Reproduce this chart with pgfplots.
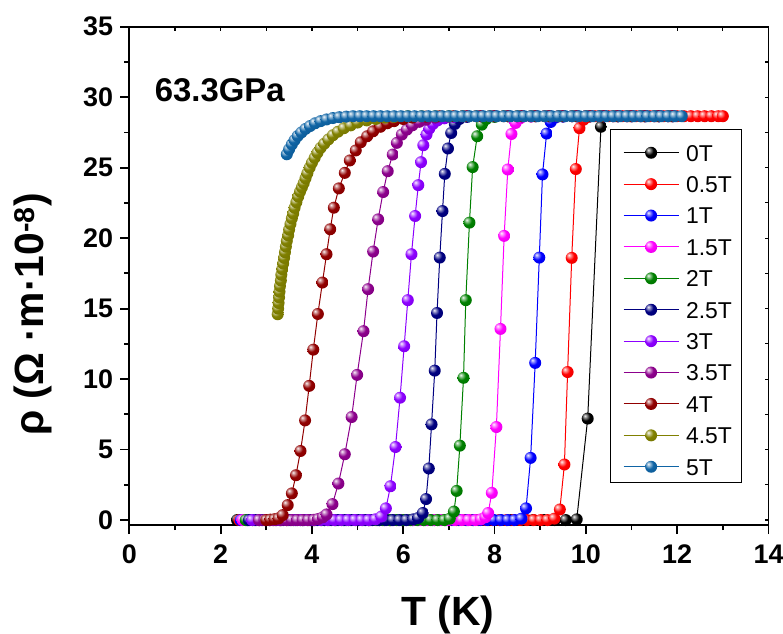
\documentclass[border=0pt]{standalone}
\usepackage{fontspec}
\setmainfont{Liberation Sans}
\usepackage{pgfplots}
\pgfplotsset{compat=1.18}
\definecolor{c0}{RGB}{0,0,0}
\definecolor{c05}{RGB}{255,0,0}
\definecolor{c1}{RGB}{0,0,255}
\definecolor{c15}{RGB}{255,0,255}
\definecolor{c2}{RGB}{0,128,0}
\definecolor{c25}{RGB}{0,0,128}
\definecolor{c3}{RGB}{140,0,255}
\definecolor{c35}{RGB}{140,0,140}
\definecolor{c4}{RGB}{145,0,0}
\definecolor{c45}{RGB}{128,128,0}
\definecolor{c5}{RGB}{15,100,165}
\colorlet{myballc}{black}
\pgfdeclareradialshading[myballc]{myball}{\pgfqpoint{-12bp}{12bp}}{%
  color(0bp)=(myballc!5!white);
  color(8bp)=(myballc!50!white);
  color(18bp)=(myballc);
  color(42bp)=(myballc!88!black);
  color(70bp)=(myballc!60!black)}
\pgfdeclareplotmark{sball}{%
  \pgfpathcircle{\pgfpointorigin}{\pgfplotmarksize}%
  \pgfshadepath{myball}{0}%
  \pgfusepath{}}
\pgfplotsset{sb/.style={color=#1, line width=1bp, mark=sball, mark size=6bp,
  mark options={solid,/utils/exec={\colorlet{myballc}{#1}}}}}
\begin{document}
\begin{tikzpicture}
\begin{axis}[
  at={(0,0)}, anchor=south west,
  scale only axis, width=639.2bp, height=498.3bp,
  xmin=0, xmax=14, ymin=-0.35, ymax=35,
  axis x line*=bottom, axis y line*=left,
  axis line style={line width=1.8bp, -},
  tick style={line width=1.8bp, black},
  tick align=outside,
  major tick length=9bp, minor tick length=5bp,
  xtick={0,2,...,14}, ytick={0,5,...,35},
  minor x tick num=1, minor y tick num=1,
  tick label style={font=\bfseries\fontsize{27}{27}\selectfont, inner sep=0pt},
  xticklabel shift=11bp, yticklabel shift=7bp,
  /pgf/number format/assume math mode=true,
  xlabel={T (K)}, ylabel={ρ (Ω ·m·10\textsuperscript{-8})},
  label style={font=\bfseries\fontsize{41}{41}\selectfont, inner sep=0pt},
  xlabel style={at={(axis description cs:0.4983,-0.2007)}, anchor=base},
  ylabel style={at={(axis description cs:-0.1507,0.4224)}, anchor=center},
  clip=false,
  legend style={at={(0.9585,0.7947)}, anchor=north east, draw=black, line width=1bp, fill=white,
    font=\fontsize{23}{23}\selectfont, inner xsep=6bp, inner ysep=7bp, row sep=6.9bp,
    nodes={inner xsep=3.5bp, inner ysep=0bp, text height=24.5bp, text depth=0bp}},
  legend cell align=left,
  legend image code/.code={
    \path (0bp,-4bp) (65.5bp,-4bp);
    \draw[#1, mark=none] (7bp,-4bp) -- (62bp,-4bp);
    \draw[#1] plot coordinates {(34.5bp,-4bp)};},
]
% 0T
\addplot[sb=c0] coordinates {(2.36,0) (2.60,0) (2.84,0) (3.08,0) (3.32,0) (3.56,0) (3.80,0) (4.04,0) (4.28,0) (4.52,0) (4.76,0) (5.00,0) (5.24,0) (5.48,0) (5.72,0) (5.96,0) (6.20,0) (6.44,0) (6.68,0) (6.92,0) (7.16,0) (7.40,0) (7.64,0) (7.88,0) (8.12,0) (8.36,0) (8.60,0) (8.84,0) (9.08,0) (9.32,0) (9.56,0) (9.80,0.05) (10.04,7.2) (10.33,27.9)};
\addlegendentry{0T}
% 0.5T
\addplot[sb=c05] coordinates {(2.41,0) (2.56,0) (2.71,0) (2.86,0) (3.01,0) (3.16,0) (3.31,0) (3.46,0) (3.61,0) (3.76,0) (3.91,0) (4.06,0) (4.21,0) (4.36,0) (4.51,0) (4.66,0) (4.81,0) (4.96,0) (5.11,0) (5.26,0) (5.41,0) (5.56,0) (5.71,0) (5.86,0) (6.01,0) (6.16,0) (6.31,0) (6.46,0) (6.61,0) (6.76,0) (6.91,0) (7.06,0) (7.21,0) (7.36,0) (7.51,0) (7.66,0) (7.81,0) (7.96,0) (8.11,0) (8.26,0) (8.41,0) (8.56,0) (8.71,0) (8.86,0) (9.01,0) (9.16,0) (9.31,0.1) (9.43,0.75) (9.53,3.94) (9.60,10.5) (9.69,18.6) (9.78,24.9) (9.86,27.8) (9.95,28.4) (10.05,28.6) (10.20,28.65) (10.35,28.65) (10.50,28.65) (10.65,28.65) (10.80,28.65) (10.95,28.65) (11.10,28.65) (11.25,28.65) (11.40,28.65) (11.55,28.65) (11.70,28.65) (11.85,28.65) (12.00,28.65) (12.15,28.65) (12.30,28.65) (12.45,28.65) (12.60,28.65) (12.75,28.65) (12.90,28.65) (13.00,28.65)};
\addlegendentry{0.5T}
% 1T
\addplot[sb=c1] coordinates {(2.44,0) (2.59,0) (2.74,0) (2.89,0) (3.04,0) (3.19,0) (3.34,0) (3.49,0) (3.64,0) (3.79,0) (3.94,0) (4.09,0) (4.24,0) (4.39,0) (4.54,0) (4.69,0) (4.84,0) (4.99,0) (5.14,0) (5.29,0) (5.44,0) (5.59,0) (5.74,0) (5.89,0) (6.04,0) (6.19,0) (6.34,0) (6.49,0) (6.64,0) (6.79,0) (6.94,0) (7.09,0) (7.24,0) (7.39,0) (7.54,0) (7.69,0) (7.84,0) (7.99,0) (8.14,0) (8.29,0) (8.44,0) (8.59,0.1) (8.69,0.83) (8.79,4.41) (8.89,11.15) (8.98,18.62) (9.05,24.52) (9.14,27.42) (9.23,28.24) (9.33,28.55) (9.5,28.62) (9.8,28.65) (10.1,28.65) (10.4,28.65) (10.7,28.65) (11.0,28.65) (11.3,28.65) (11.6,28.65) (11.9,28.65)};
\addlegendentry{1T}
% 1.5T
\addplot[sb=c15] coordinates {(2.48,0) (2.63,0) (2.78,0) (2.93,0) (3.08,0) (3.23,0) (3.38,0) (3.53,0) (3.68,0) (3.83,0) (3.98,0) (4.13,0) (4.28,0) (4.43,0) (4.58,0) (4.73,0) (4.88,0) (5.03,0) (5.18,0) (5.33,0) (5.48,0) (5.63,0) (5.78,0) (5.93,0) (6.08,0) (6.23,0) (6.38,0) (6.53,0) (6.68,0) (6.83,0) (6.98,0) (7.13,0) (7.28,0) (7.43,0) (7.58,0) (7.70,0.05) (7.80,0.2) (7.86,0.5) (7.94,1.93) (8.04,6.6) (8.13,13.56) (8.21,20.16) (8.29,24.87) (8.37,27.39) (8.46,28.17) (8.56,28.5) (8.8,28.62) (9.1,28.65) (9.4,28.65) (9.7,28.65) (10.0,28.65) (10.3,28.65) (10.6,28.65) (10.9,28.65) (11.2,28.65) (11.5,28.65) (11.8,28.65)};
\addlegendentry{1.5T}
% 2T
\addplot[sb=c2] coordinates {(2.55,0) (2.70,0) (2.85,0) (3.00,0) (3.15,0) (3.30,0) (3.45,0) (3.60,0) (3.75,0) (3.90,0) (4.05,0) (4.20,0) (4.35,0) (4.50,0) (4.65,0) (4.80,0) (4.95,0) (5.10,0) (5.25,0) (5.40,0) (5.55,0) (5.70,0) (5.85,0) (6.00,0) (6.15,0) (6.30,0) (6.45,0) (6.60,0) (6.75,0) (6.90,0) (7.02,0.1) (7.11,0.6) (7.17,2.07) (7.24,5.28) (7.32,10.09) (7.37,15.6) (7.45,21.1) (7.52,25.04) (7.62,27.23) (7.72,28.05) (7.82,28.45) (8.0,28.6) (8.3,28.65) (8.6,28.65) (8.9,28.65) (9.2,28.65) (9.5,28.65) (9.8,28.65) (10.1,28.65) (10.4,28.65) (10.7,28.65) (11.0,28.65) (11.3,28.65) (11.6,28.65) (11.9,28.65)};
\addlegendentry{2T}
% 2.5T
\addplot[sb=c25] coordinates {(2.62,0) (2.77,0) (2.92,0) (3.07,0) (3.22,0) (3.37,0) (3.52,0) (3.67,0) (3.82,0) (3.97,0) (4.12,0) (4.27,0) (4.42,0) (4.57,0) (4.72,0) (4.87,0) (5.02,0) (5.17,0) (5.32,0) (5.47,0) (5.62,0) (5.77,0) (5.92,0) (6.07,0) (6.22,0.05) (6.33,0.15) (6.43,0.5) (6.50,1.49) (6.56,3.66) (6.62,6.79) (6.69,10.6) (6.74,14.69) (6.80,18.62) (6.86,21.92) (6.91,24.56) (6.98,26.36) (7.05,27.46) (7.13,28.1) (7.23,28.45) (7.4,28.6) (7.7,28.65) (8.0,28.65) (8.3,28.65) (8.6,28.65) (8.9,28.65) (9.2,28.65) (9.5,28.65) (9.8,28.65) (10.1,28.65) (10.4,28.65) (10.7,28.65) (11.0,28.65) (11.3,28.65) (11.6,28.65) (11.9,28.65)};
\addlegendentry{2.5T}
% 3T
\addplot[sb=c3] coordinates {(2.69,0) (2.84,0) (2.99,0) (3.14,0) (3.29,0) (3.44,0) (3.59,0) (3.74,0) (3.89,0) (4.04,0) (4.19,0) (4.34,0) (4.49,0) (4.64,0) (4.79,0) (4.94,0) (5.09,0) (5.24,0) (5.39,0.05) (5.52,0.25) (5.62,0.83) (5.72,2.4) (5.83,5.18) (5.93,8.68) (6.02,12.33) (6.10,15.6) (6.18,18.86) (6.26,21.57) (6.33,23.76) (6.39,25.39) (6.44,26.59) (6.51,27.35) (6.57,27.77) (6.65,28.1) (6.75,28.35) (6.9,28.5) (7.1,28.6) (7.4,28.65) (7.7,28.65) (8.0,28.65) (8.3,28.65) (8.6,28.65) (8.9,28.65) (9.2,28.65) (9.5,28.65) (9.8,28.65) (10.1,28.65) (10.4,28.65) (10.7,28.65) (11.0,28.65) (11.3,28.65) (11.6,28.65) (11.9,28.65)};
\addlegendentry{3T}
% 3.5T
\addplot[sb=c35] coordinates {(2.84,0) (2.96,0) (3.08,0) (3.20,0) (3.32,0) (3.44,0) (3.56,0) (3.68,0) (3.80,0) (3.92,0) (4.04,0.02) (4.14,0.08) (4.24,0.2) (4.32,0.4) (4.45,1.13) (4.58,2.59) (4.72,4.67) (4.87,7.31) (4.99,10.3) (5.13,13.4) (5.23,16.38) (5.34,19.05) (5.45,21.33) (5.56,23.27) (5.66,24.75) (5.77,25.93) (5.86,26.76) (5.97,27.35) (6.08,27.7) (6.2,28.0) (6.35,28.25) (6.5,28.4) (6.7,28.55) (7.0,28.62) (7.3,28.65) (7.6,28.65) (7.9,28.65) (8.2,28.65) (8.5,28.65) (8.8,28.65) (9.1,28.65) (9.4,28.65) (9.7,28.65) (10.0,28.65) (10.3,28.65) (10.6,28.65) (10.9,28.65) (11.2,28.65) (11.5,28.65) (11.8,28.65)};
\addlegendentry{3.5T}
% 4T
\addplot[sb=c4] coordinates {(3.00,0) (3.09,0.03) (3.18,0.06) (3.27,0.12) (3.36,0.35) (3.47,1.06) (3.56,1.89) (3.65,3.18) (3.75,4.9) (3.85,7.07) (3.94,9.52) (4.03,12.09) (4.13,14.62) (4.23,16.85) (4.32,18.86) (4.40,20.63) (4.48,22.16) (4.59,23.53) (4.72,24.63) (4.83,25.51) (4.96,26.22) (5.07,26.8) (5.21,27.23) (5.34,27.58) (5.5,27.9) (5.65,28.15) (5.8,28.3) (6.0,28.45) (6.2,28.55) (6.5,28.62) (6.8,28.65) (7.1,28.65) (7.4,28.65) (7.7,28.65) (8.0,28.65) (8.3,28.65) (8.6,28.65) (8.9,28.65) (9.2,28.65) (9.5,28.65) (9.8,28.65) (10.1,28.65) (10.4,28.65) (10.7,28.65) (11.0,28.65) (11.3,28.65) (11.6,28.65) (11.9,28.65)};
\addlegendentry{4T}
% 4.5T
\addplot[sb=c45] coordinates {(3.25,14.6) (3.26,15.0) (3.27,15.4) (3.28,15.8) (3.29,16.2) (3.30,16.6) (3.32,17.0) (3.33,17.4) (3.35,17.8) (3.37,18.2) (3.39,18.6) (3.41,19.0) (3.43,19.4) (3.45,19.8) (3.48,20.2) (3.50,20.6) (3.53,21.0) (3.56,21.4) (3.59,21.75) (3.62,22.15) (3.66,22.55) (3.70,22.95) (3.74,23.3) (3.78,23.6) (3.82,23.9) (3.86,24.25) (3.90,24.6) (3.95,25.0) (4.00,25.35) (4.06,25.7) (4.12,26.05) (4.19,26.4) (4.27,26.7) (4.36,27.0) (4.46,27.3) (4.57,27.55) (4.70,27.8) (4.85,28.0) (5.0,28.2) (5.2,28.35) (5.4,28.45) (5.6,28.55) (5.8,28.6) (6.1,28.65) (6.4,28.65) (6.7,28.65) (7.0,28.65) (7.3,28.65) (7.6,28.65) (7.9,28.65) (8.2,28.65) (8.5,28.65) (8.8,28.65) (9.1,28.65) (9.4,28.65) (9.7,28.65) (10.0,28.65) (10.3,28.65) (10.6,28.65) (10.9,28.65) (11.2,28.65) (11.5,28.65) (11.8,28.65)};
\addlegendentry{4.5T}
% 5T
\addplot[sb=c5] coordinates {(3.45,25.95) (3.50,26.3) (3.56,26.65) (3.62,26.95) (3.69,27.25) (3.77,27.5) (3.86,27.75) (3.96,27.95) (4.07,28.15) (4.19,28.3) (4.32,28.42) (4.46,28.52) (4.60,28.58) (4.75,28.62) (4.90,28.65) (5.05,28.65) (5.20,28.65) (5.35,28.65) (5.50,28.65) (5.65,28.65) (5.80,28.65) (5.95,28.65) (6.10,28.65) (6.25,28.65) (6.40,28.65) (6.55,28.65) (6.70,28.65) (6.85,28.65) (7.00,28.65) (7.15,28.65) (7.30,28.65) (7.45,28.65) (7.60,28.65) (7.75,28.65) (7.90,28.65) (8.05,28.65) (8.20,28.65) (8.35,28.65) (8.50,28.65) (8.65,28.65) (8.80,28.65) (8.95,28.65) (9.10,28.65) (9.25,28.65) (9.40,28.65) (9.55,28.65) (9.70,28.65) (9.85,28.65) (10.00,28.65) (10.15,28.65) (10.30,28.65) (10.45,28.65) (10.60,28.65) (10.75,28.65) (10.90,28.65) (11.05,28.65) (11.20,28.65) (11.35,28.65) (11.50,28.65) (11.65,28.65) (11.80,28.65) (11.95,28.65) (12.10,28.65)};
\addlegendentry{5T}
\node[anchor=base west, font=\bfseries\fontsize{33}{33}\selectfont, inner sep=0pt] at (axis description cs:0.0397,0.8495) {63.3GPa};
\end{axis}
\begin{axis}[
  at={(0,0)}, anchor=south west,
  scale only axis, width=639.2bp, height=498.3bp,
  xmin=0, xmax=14, ymin=-0.35, ymax=35,
  axis x line*=top, axis y line*=right,
  axis line style={line width=1.8bp, -},
  tick style={line width=1.2bp, black},
  tick align=inside, major tick length=4bp,
  xtick={0,1,...,14}, ytick={0,2.5,...,35},
  xticklabels={}, yticklabels={},
]
\end{axis}
\pgfresetboundingbox
\path[use as bounding box] (-129.3bp,-109bp) rectangle (653.7bp,525bp);
\end{tikzpicture}
\end{document}
